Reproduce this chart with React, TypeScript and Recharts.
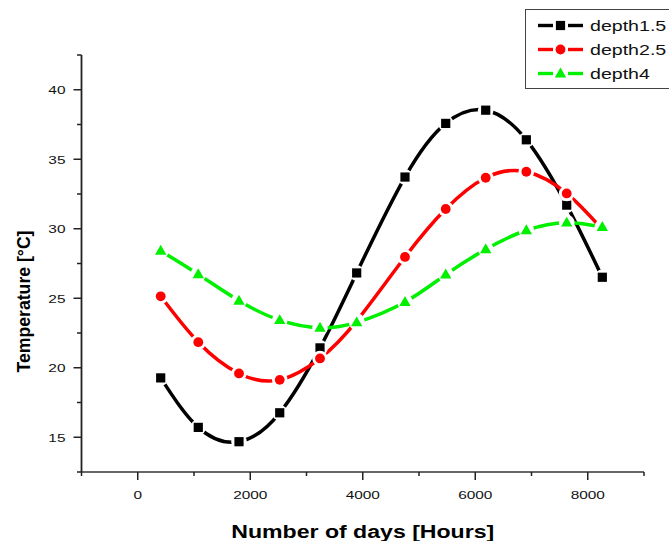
import React from 'react';
import { LineChart, Line, XAxis, YAxis } from 'recharts';

const hours = [408, 1076, 1800, 2524, 3240, 3892, 4751, 5475, 6186, 6908, 7626, 8259];
const depth15 = [19.27, 15.71, 14.68, 16.76, 21.43, 26.82, 33.72, 37.58, 38.53, 36.4, 31.7, 26.51];
const depth25 = [25.14, 21.84, 19.59, 19.13, 20.67, 23.37, 27.97, 31.42, 33.67, 34.1, 32.54, 29.94];
const depth4 = [28.41, 26.72, 24.82, 23.42, 22.87, 23.26, 24.73, 26.7, 28.52, 29.89, 30.44, 30.12];

const seriesNames = ['depth1.5', 'depth2.5', 'depth4'];
const seriesKeys = ['d15', 'd25', 'd4'];
const seriesColors = ['#000000', '#ff0000', '#00f000'];
const seriesShapes = ['square', 'circle', 'triangle'];

const xTicks = [-1000, 0, 1000, 2000, 3000, 4000, 5000, 6000, 7000, 8000, 9000];
const xLabels = [0, 2000, 4000, 6000, 8000];
const yTicks = [12.5, 15, 17.5, 20, 22.5, 25, 27.5, 30, 32.5, 35, 37.5, 40, 42.5];
const yLabels = [15, 20, 25, 30, 35, 40];

const FONT = '"Liberation Sans", Arial, sans-serif';
const AXIS = '#222';

const data = hours.map((h, i) => ({ x: h, d15: depth15[i], d25: depth25[i], d4: depth4[i] }));

// symbol with a white halo so the line breaks around it
function Symbol({ shape, cx, cy, color, halo = true }: any) {
  let mark;
  if (shape === 'square') {
    mark = <rect x={cx - 4.6} y={cy - 4.6} width={9.2} height={9.2} fill={color} />;
  } else if (shape === 'circle') {
    mark = <circle cx={cx} cy={cy} r={4.9} fill={color} />;
  } else {
    mark = <polygon points={`${cx - 5.7},${cy + 3.9} ${cx + 5.7},${cy + 3.9} ${cx},${cy - 6}`} fill={color} />;
  }
  return (
    <g>
      {halo && <circle cx={cx} cy={cy} r={7.8} fill="#fff" />}
      {mark}
    </g>
  );
}

function XTick({ x, y, payload }: any) {
  const v = payload.value;
  const major = v % 2000 === 0;
  return (
    <g>
      <line x1={x} x2={x} y1={y} y2={y + (major ? 8 : 4)} stroke={AXIS} strokeWidth={1.5} />
      {xLabels.includes(v) && (
        <text transform={`translate(${x},${y + 26.7}) scale(1.4,1)`} textAnchor="middle" fontSize={11} fontFamily={FONT} fill="#111">
          {v}
        </text>
      )}
    </g>
  );
}

function YTick({ x, y, payload }: any) {
  const v = payload.value;
  const major = v % 5 === 0;
  return (
    <g>
      <line x1={x} x2={x - (major ? 8 : 4.5)} y1={y} y2={y} stroke={AXIS} strokeWidth={1.5} />
      {yLabels.includes(v) && (
        <text transform={`translate(${x - 16},${y + 4.5}) scale(1.4,1)`} textAnchor="end" fontSize={11} fontFamily={FONT} fill="#111">
          {v}
        </text>
      )}
    </g>
  );
}

function XTitle({ viewBox }: any) {
  const cx = viewBox.x + viewBox.width / 2;
  return (
    <text x={cx} y={537.5} textAnchor="middle" fontSize={18} fontWeight="bold" fontFamily={FONT} fill="#000"
      textLength={263} lengthAdjust="spacingAndGlyphs">
      Number of days [Hours]
    </text>
  );
}

function YTitle({ viewBox }: any) {
  const cy = viewBox.y + viewBox.height / 2 + 38;
  return (
    <text transform={`translate(30,${cy}) rotate(-90)`} textAnchor="middle" fontSize={18} fontWeight="bold" fontFamily={FONT} fill="#000"
      textLength={142} lengthAdjust="spacingAndGlyphs">
      Temperature [°C]
    </text>
  );
}

function LegendBox() {
  return (
    <div style={{ position: 'absolute', left: 525, top: 9, width: 160, height: 78, border: '1px solid #444', background: '#fff' }}>
      <svg width={160} height={78}>
        {seriesNames.map((name, i) => {
          const cy = 15.5 + i * 24;
          const c = seriesColors[i];
          return (
            <g key={name}>
              <line x1={12} x2={27} y1={cy} y2={cy} stroke={c} strokeWidth={3.4} />
              <line x1={42} x2={57} y1={cy} y2={cy} stroke={c} strokeWidth={3.4} />
              <Symbol shape={seriesShapes[i]} cx={34.5} cy={cy} color={c} halo={false} />
              <text transform={`translate(64,${cy + 5}) scale(1.4,1)`} fontSize={14} fontFamily={FONT} fill="#111">{name}</text>
            </g>
          );
        })}
      </svg>
    </div>
  );
}

export default function App() {
  return (
    <div style={{ position: 'absolute', left: 0, top: 0, width: 669, height: 541, overflow: 'hidden', background: '#fff' }}>
      <LineChart width={669} height={541} data={data} margin={{ top: 55, right: 25, bottom: 0, left: 0 }}>
        <XAxis
          dataKey="x"
          type="number"
          domain={[-1000, 9000]}
          ticks={xTicks}
          interval={0}
          height={69}
          tickSize={0}
          tickMargin={0}
          tickLine={false}
          axisLine={{ stroke: '#333', strokeWidth: 1.5 }}
          tick={<XTick />}
          label={<XTitle />}
          allowDataOverflow
        />
        <YAxis
          type="number"
          domain={[12.5, 42.5]}
          ticks={yTicks}
          interval={0}
          width={81.5}
          tickSize={0}
          tickMargin={0}
          tickLine={false}
          axisLine={{ stroke: AXIS, strokeWidth: 1.8 }}
          tick={<YTick />}
          label={<YTitle />}
          allowDataOverflow
        />
        {seriesKeys.map((k, i) => (
          <Line
            key={k}
            dataKey={k}
            name={seriesNames[i]}
            type="natural"
            stroke={seriesColors[i]}
            strokeWidth={3.5}
            isAnimationActive={false}
            dot={(p: any) => <Symbol key={`${k}-${p.index}`} shape={seriesShapes[i]} cx={p.cx} cy={p.cy} color={seriesColors[i]} />}
            activeDot={false}
          />
        ))}
      </LineChart>
      <LegendBox />
    </div>
  );
}
